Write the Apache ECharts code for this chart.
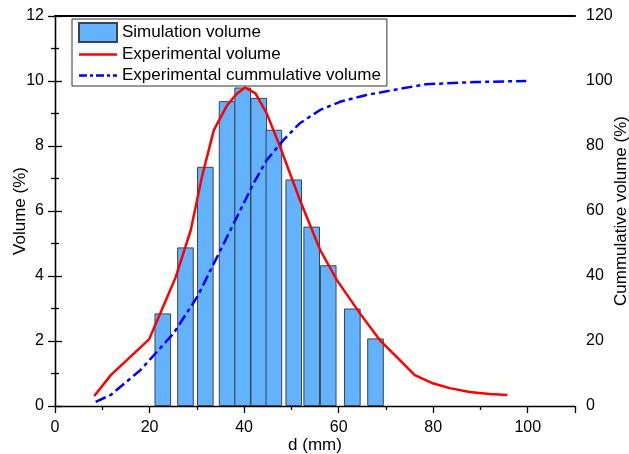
<!DOCTYPE html>
<html>
<head>
<meta charset="utf-8">
<script src="https://cdn.jsdelivr.net/npm/echarts@6/dist/echarts.min.js"></script>
<style>
html,body{margin:0;padding:0;background:#fff;}
#chart{width:629px;height:454px;}
</style>
</head>
<body>
<div id="chart"></div>
<script>
// Simulation volume (bars)
var simX = [22.8, 27.6, 31.8, 36.4, 39.7, 43.1, 46.3, 50.5, 54.3, 57.8, 62.9, 67.8];
var simY = [2.85, 4.88, 7.36, 9.38, 9.8, 9.48, 8.5, 6.97, 5.52, 4.33, 3.0, 2.08];
// Experimental volume (red line)
var expX = [8.3, 11.8, 19.9, 22.3, 25.5, 28.7, 31.1, 33.6, 36.4, 38.4, 40.2, 42.4, 44.8, 47.6, 51.8, 56.1, 59.6, 64.5, 68.7, 72.9, 76.1, 79.7, 83.5, 87.7, 91.9, 95.7];
var expY = [0.31, 0.95, 2.05, 2.86, 3.95, 5.4, 7.06, 8.49, 9.25, 9.6, 9.8, 9.62, 9.0, 7.98, 6.34, 4.8, 3.88, 2.85, 2.03, 1.42, 0.95, 0.71, 0.55, 0.43, 0.37, 0.34];
// Experimental cumulative volume (blue dash-dot)
var cumX = [8.6, 11.8, 18.1, 25.1, 30.1, 34.3, 38.5, 42.0, 44.8, 48.3, 51.8, 56.1, 60.3, 65.9, 72.9, 78.5, 89.1, 99.7];
var cumY = [1.3, 3.4, 11.1, 22.4, 33.6, 45.9, 58.2, 68.5, 75.7, 81.8, 87.0, 91.1, 93.6, 95.7, 97.6, 99.0, 99.7, 100];

var seriesNames = ['Simulation volume', 'Experimental volume', 'Experimental cummulative volume'];

function pairs(xs, ys){ return xs.map(function(x,i){ return [x, ys[i]]; }); }

var FONT = "'Liberation Sans', Arial, sans-serif";
var chart = echarts.init(document.getElementById('chart'), null, {renderer:'canvas'});
var axisCommon = {
  nameMoveOverlap:false,
  axisLine:{show:true, lineStyle:{color:'#000', width:1.3}},
  axisTick:{show:true, inside:false, length:7, lineStyle:{color:'#000', width:1.3}},
  minorTick:{show:true, splitNumber:2, length:4, lineStyle:{color:'#000', width:1.3}},
  splitLine:{show:false},
  axisLabel:{color:'#000', fontSize:16, fontFamily:FONT, margin:11},
  nameTextStyle:{color:'#000', fontSize:17, fontFamily:FONT}
};
// legend icons (bounding box forced to 38x19 with move-only points)
var ICON_RED = 'path://M0,0 M38,19 M0,8.3 L38,8.3 L38,10.7 L0,10.7 Z';
var ICON_BLUE = 'path://M0,0 M38,19 M0,8.3 L8,8.3 L8,10.7 L0,10.7 Z M11,8.3 L14,8.3 L14,10.7 L11,10.7 Z M17,8.3 L25,8.3 L25,10.7 L17,10.7 Z M28,8.3 L31,8.3 L31,10.7 L28,10.7 Z M34,8.3 L38,8.3 L38,10.7 L34,10.7 Z';
chart.setOption({
  animation:false,
  backgroundColor:'#fff',
  grid:{left:55, right:54, top:16, bottom:48, containLabel:false, outerBoundsMode:'none'},
  legend:{
    orient:'vertical', left:72, top:19,
    data:[
      {name:seriesNames[0], icon:'rect'},
      {name:seriesNames[1], icon:ICON_RED, itemStyle:{color:'#FF0000', borderWidth:0}},
      {name:seriesNames[2], icon:ICON_BLUE, itemStyle:{color:'#0000FF', borderWidth:0}}
    ],
    backgroundColor:'#fff',
    borderColor:'#333', borderWidth:1,
    padding:[3,6,1,6],
    itemGap:2, itemWidth:38, itemHeight:19,
    textStyle:{color:'#000', fontSize:17, fontFamily:FONT}
  },
  xAxis:[
    Object.assign({}, axisCommon, {
      type:'value', min:0, max:110, interval:20, position:'bottom',
      name:'d (mm)', nameLocation:'middle', nameGap:31,
      axisLabel:Object.assign({}, axisCommon.axisLabel, {margin:14, formatter:function(v){return v===110?'':v;}})
    }),
    {type:'value', min:0, max:110, position:'top', axisLine:{show:true, onZero:false, lineStyle:{color:'#000', width:2.2}},
     axisTick:{show:false}, axisLabel:{show:false}, splitLine:{show:false}}
  ],
  yAxis:[
    Object.assign({}, axisCommon, {
      type:'value', min:0, max:12, interval:2, position:'left',
      name:'Volume (%)', nameLocation:'middle', nameGap:26
    }),
    Object.assign({}, axisCommon, {
      type:'value', min:0, max:120, interval:20, position:'right',
      name:'Cummulative volume (%)', nameLocation:'middle', nameGap:38
    })
  ],
  series:[
    {name:seriesNames[0], type:'bar', xAxisIndex:0, yAxisIndex:0, data:pairs(simX, simY),
     barWidth:16.6, itemStyle:{color:'#62B2FE', borderColor:'#3a4450', borderWidth:1}},
    {name:seriesNames[1], type:'line', xAxisIndex:0, yAxisIndex:0, data:pairs(expX, expY),
     symbol:'none', smooth:false, lineStyle:{color:'#FF0000', width:2.5}, itemStyle:{color:'#FF0000'}},
    {name:seriesNames[2], type:'line', xAxisIndex:0, yAxisIndex:1, data:pairs(cumX, cumY),
     symbol:'none', smooth:false, lineStyle:{color:'#0000FF', width:2.5, type:[11,4,4,4]}, itemStyle:{color:'#0000FF'}}
  ]
});
</script>
</body>
</html>
